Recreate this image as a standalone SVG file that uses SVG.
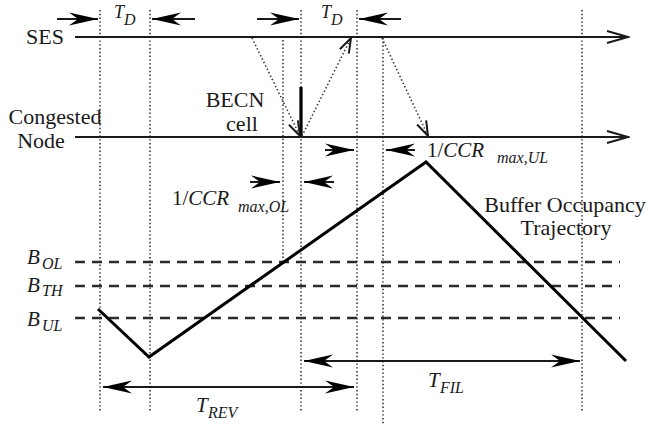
<svg xmlns="http://www.w3.org/2000/svg" width="648" height="427" viewBox="0 0 648 427" font-family="'Liberation Serif', 'Times New Roman', 'DejaVu Serif', serif">
<style>
text{font-family:'Liberation Serif','Times New Roman','DejaVu Serif',serif;fill:#1a1a1a}
.lbl{font-size:22px}
.it{font-style:italic}
.sub{font-size:16px;font-style:italic}
.axis{stroke:#1a1a1a;stroke-width:2;fill:none}
.vdot{stroke:#333;stroke-width:1.6;stroke-dasharray:1.4 2.4;fill:none}
.ddot{stroke:#333;stroke-width:1.6;stroke-dasharray:1.4 2.4;fill:none}
.dash{stroke:#2a2a2a;stroke-width:2.5;stroke-dasharray:10 7;fill:none}
.dim{stroke:#1a1a1a;stroke-width:2;fill:none}
.traj{stroke:#000;stroke-width:3;fill:none;stroke-linejoin:miter}
</style>
<defs>
<marker id="barb" markerUnits="userSpaceOnUse" viewBox="-30 -8 32 16" markerWidth="32" markerHeight="16" refX="0" refY="0" orient="auto-start-reverse">
<path d="M0,0 L-29,-6.5 L-20,0 L-29,6.5 Z" fill="#000"/>
</marker>
<marker id="open" markerUnits="userSpaceOnUse" viewBox="-24 -8 26 16" markerWidth="26" markerHeight="16" refX="0" refY="0" orient="auto">
<path d="M-21,-6 L0,0 L-21,6" fill="none" stroke="#1a1a1a" stroke-width="2"/>
</marker>
<marker id="openS" markerUnits="userSpaceOnUse" viewBox="-18 -7 20 14" markerWidth="20" markerHeight="14" refX="0" refY="0" orient="auto">
<path d="M-15,-5 L0,0 L-15,5" fill="none" stroke="#1a1a1a" stroke-width="2"/>
</marker>
</defs>

<g id="grid">
<line class="vdot" x1="100" y1="10" x2="100" y2="412"/>
<line class="vdot" x1="150" y1="10" x2="150" y2="412"/>
<line class="vdot" x1="283" y1="40" x2="283" y2="263"/>
<line class="vdot" x1="301" y1="10" x2="301" y2="412"/>
<line class="vdot" x1="357" y1="10" x2="357" y2="412"/>
<line class="vdot" x1="383" y1="38" x2="383" y2="425"/>
<line class="vdot" x1="582" y1="10" x2="582" y2="412"/>
</g>

<g id="thresholds">
<line class="dash" x1="75" y1="262" x2="620" y2="262"/>
<line class="dash" x1="75" y1="286" x2="620" y2="286"/>
<line class="dash" x1="75" y1="318" x2="620" y2="318"/>
</g>

<g id="SES">
<text class="lbl" x="45" y="44" text-anchor="middle">SES</text>
<line class="axis" x1="75" y1="37" x2="628" y2="37" marker-end="url(#open)"/>
</g>

<g id="congested-node">
<text class="lbl" x="55" y="124" text-anchor="middle">Congested</text>
<text class="lbl" x="41" y="148" text-anchor="middle">Node</text>
<line class="axis" x1="75" y1="137" x2="628" y2="137" marker-end="url(#open)"/>
</g>

<g id="becn">
<text class="lbl" x="235" y="107" text-anchor="middle">BECN</text>
<text class="lbl" x="242" y="131" text-anchor="middle">cell</text>
<line x1="301" y1="87" x2="301" y2="136" stroke="#000" stroke-width="3.2"/>
</g>

<g id="trajectory">
<polyline class="traj" points="98,309 149,357 426,162 626,361"/>
<text class="lbl" x="565" y="212" text-anchor="middle">Buffer Occupancy</text>
<text class="lbl" x="566" y="235" text-anchor="middle">Trajectory</text>
</g>

<g id="labels">
<text class="it" font-size="18" x="114" y="18">T</text><text class="sub" x="124" y="25">D</text>
<text class="it" font-size="18" x="321" y="18">T</text><text class="sub" x="331" y="25">D</text>
<text font-size="21" x="427" y="157">1/<tspan class="it">CCR</tspan></text><text class="sub" x="497" y="163">max,UL</text>
<text font-size="21" x="172" y="205">1/<tspan class="it">CCR</tspan></text><text class="sub" x="238" y="212">max,OL</text>
<text class="it" font-size="21" x="27" y="264">B</text><text class="sub" x="42" y="269">OL</text>
<text class="it" font-size="21" x="27" y="292">B</text><text class="sub" x="42" y="296">TH</text>
<text class="it" font-size="21" x="27" y="326">B</text><text class="sub" x="42" y="331">UL</text>
<text class="it" font-size="21" x="196" y="412">T</text><text class="sub" x="208" y="418">REV</text>
<text class="it" font-size="21" x="428" y="387">T</text><text class="sub" x="440" y="393">FIL</text>
</g>

<g id="connectors">
<line class="ddot" x1="252" y1="38" x2="300" y2="136" marker-end="url(#openS)"/>
<line class="ddot" x1="302" y1="136" x2="351" y2="38" marker-end="url(#openS)"/>
<line class="ddot" x1="382" y1="38" x2="428" y2="136" marker-end="url(#openS)"/>
<line class="dim" x1="57" y1="19" x2="98" y2="19" marker-end="url(#barb)"/>
<line class="dim" x1="195" y1="19" x2="152" y2="19" marker-end="url(#barb)"/>
<line class="dim" x1="257" y1="19" x2="299" y2="19" marker-end="url(#barb)"/>
<line class="dim" x1="401" y1="19" x2="359" y2="19" marker-end="url(#barb)"/>
<line class="dim" x1="325" y1="150" x2="354" y2="150" marker-end="url(#barb)"/>
<line class="dim" x1="415" y1="150" x2="386" y2="150" marker-end="url(#barb)"/>
<line class="dim" x1="250" y1="182" x2="280" y2="182" marker-end="url(#barb)"/>
<line class="dim" x1="334" y1="182" x2="304" y2="182" marker-end="url(#barb)"/>
<line class="dim" x1="103" y1="387" x2="354" y2="387" marker-start="url(#barb)" marker-end="url(#barb)"/>
<line class="dim" x1="304" y1="361" x2="580" y2="361" marker-start="url(#barb)" marker-end="url(#barb)"/>
</g>
</svg>
